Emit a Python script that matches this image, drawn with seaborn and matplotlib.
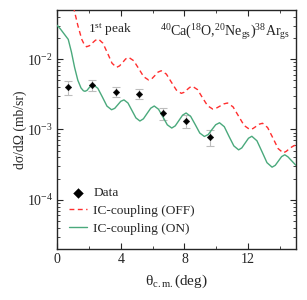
import numpy as np
import pandas as pd
import seaborn as sns
import matplotlib
matplotlib.use("Agg")
import matplotlib.pyplot as plt
from matplotlib.ticker import LogLocator, MultipleLocator

# measured data (1st peak)
theta_data = [0.69, 2.19, 3.67, 5.15, 6.62, 8.10, 9.58]
xs_data = [4.0e-3, 4.3e-3, 3.4e-3, 3.2e-3, 1.7e-3, 1.32e-3, 7.9e-4]
xs_err = [0.9e-3, 0.8e-3, 0.55e-3, 0.5e-3, 0.35e-3, 0.28e-3, 0.2e-3]

# IC-coupling (ON), log10 values
theta_on = [0.0, 0.2, 0.4, 0.6, 0.7, 0.9, 1.1, 1.3, 1.5, 1.65, 1.75,
            1.88, 2.0, 2.14, 2.27, 2.56, 2.85, 3.13, 3.42, 3.62, 3.81, 4.0, 4.2,
            4.45, 4.7, 4.95, 5.2, 5.42, 5.65, 5.88, 6.1, 6.37, 6.65, 6.92, 7.2,
            7.42, 7.65, 7.88, 8.1, 8.39, 8.68, 8.96, 9.25, 9.49, 9.73, 9.96, 10.2,
            10.5, 10.8, 11.1, 11.4, 11.6, 11.82, 12.02, 12.23, 12.55, 12.87, 13.18,
            13.5, 13.7, 13.9, 14.1, 14.3, 14.5, 14.75, 15.0]
logxs_on = [-1.52, -1.57, -1.63, -1.69, -1.72, -1.90, -2.12, -2.30, -2.41, -2.45, -2.458,
            -2.445, -2.41, -2.378, -2.364, -2.416, -2.542, -2.668, -2.72, -2.70, -2.65, -2.60, -2.58,
            -2.624, -2.73, -2.836, -2.88, -2.849, -2.773, -2.698, -2.667, -2.713, -2.823, -2.934, -2.98,
            -2.949, -2.873, -2.797, -2.766, -2.815, -2.933, -3.051, -3.10, -3.072, -3.0, -2.933, -2.905,
            -2.961, -3.10, -3.234, -3.29, -3.262, -3.19, -3.125, -3.097, -3.161, -3.317, -3.472,
            -3.536, -3.51, -3.448, -3.386, -3.36, -3.39, -3.45, -3.51]

# IC-coupling (OFF)
theta_off = [0.0, 0.5, 1.06, 1.3, 1.55, 1.7, 1.85,
             2.04, 2.22, 2.41, 2.6, 2.88, 3.17, 3.45, 3.73, 3.92, 4.12, 4.31, 4.5,
             4.81, 5.13, 5.44, 5.75, 5.95, 6.15, 6.34, 6.54, 6.86, 7.17, 7.49, 7.8,
             7.98, 8.15, 8.33, 8.5, 8.82, 9.13, 9.45, 9.77, 10.0, 10.24, 10.47, 10.7,
             11.05, 11.4, 11.75, 12.1, 12.3, 12.5, 12.7, 12.9, 13.22, 13.55, 13.88, 14.2,
             14.4, 14.6, 14.8, 15.0]
logxs_off = [-0.6, -0.95, -1.29, -1.52, -1.72, -1.79, -1.825,
             -1.809, -1.77, -1.732, -1.716, -1.775, -1.917, -2.059, -2.118, -2.097, -2.047, -1.997, -1.976,
             -2.023, -2.137, -2.251, -2.298, -2.279, -2.232, -2.185, -2.166, -2.213, -2.326, -2.44, -2.487,
             -2.472, -2.437, -2.402, -2.387, -2.434, -2.549, -2.663, -2.71, -2.697, -2.667, -2.637, -2.624,
             -2.679, -2.812, -2.945, -3.0, -2.987, -2.956, -2.925, -2.912, -2.973, -3.12, -3.272, -3.333,
             -3.31, -3.27, -3.24, -3.22]

df_on = pd.DataFrame({"theta": theta_on, "xs": 10.0 ** np.array(logxs_on)})
df_off = pd.DataFrame({"theta": theta_off, "xs": 10.0 ** np.array(logxs_off)})
df_data = pd.DataFrame({"theta": theta_data, "xs": xs_data, "err": xs_err})

sns.set_style("ticks")
plt.rcParams["font.family"] = ["Liberation Serif", "DejaVu Serif"]
plt.rcParams["mathtext.fontset"] = "custom"
plt.rcParams["mathtext.rm"] = "Liberation Serif"
plt.rcParams["mathtext.it"] = "Liberation Serif:italic"
plt.rcParams["mathtext.default"] = "regular"

fig = plt.figure(figsize=(3.07, 3.0), dpi=100)
ax = fig.add_axes([0.186, 0.17, 0.778, 0.797])

red = "#ff2e2e"
green = "#4aa97c"

ax.errorbar(df_data["theta"], df_data["xs"], yerr=df_data["err"], fmt="none",
            ecolor="#bdbdbd", elinewidth=0.8, capsize=2.8, capthick=0.8, zorder=2)
sns.scatterplot(data=df_data, x="theta", y="xs", marker="D", s=11, color="black",
                edgecolor="black", linewidth=0.3, ax=ax, label="Data", zorder=4)
sns.lineplot(data=df_off, x="theta", y="xs", color=red, linewidth=1.0,
             dashes=False, ax=ax, label="IC-coupling (OFF)", zorder=3)
ax.lines[-1].set_dashes([3.5, 2.5])
sns.lineplot(data=df_on, x="theta", y="xs", color=green, linewidth=1.0,
             ax=ax, label="IC-coupling (ON)", zorder=3)

ax.set_yscale("log")
ax.set_xlim(0, 15)
ax.set_ylim(2e-5, 5e-2)
ax.xaxis.set_major_locator(MultipleLocator(4))
ax.xaxis.set_minor_locator(MultipleLocator(2))
ax.yaxis.set_major_locator(LogLocator(base=10, numticks=10))
ax.yaxis.set_minor_locator(LogLocator(base=10, subs=np.arange(2, 10), numticks=10))
ax.tick_params(which="both", direction="in", top=True, right=True, labelsize=10, pad=3)
ax.tick_params(which="major", length=4, width=0.8)
ax.tick_params(which="minor", length=2.2, width=0.6)
for sp in ax.spines.values():
    sp.set_linewidth(1.0)

ax.set_xlabel(r"θ$_{\mathrm{c.m.}}$(deg)", fontsize=11)
ax.set_ylabel("dσ/dΩ (mb/sr)", fontsize=9.8)
ax.xaxis.set_label_coords(0.5, -0.1)
ax.yaxis.set_label_coords(-0.128, 0.5)

ax.text(0.13, 0.916, r"1$^{\mathrm{st}}$ peak", transform=ax.transAxes,
        fontsize=9.6, va="center")
ax.text(0.431, 0.908,
        r"$^{40}$Ca($^{18}$O,$^{20}$Ne$_{\mathrm{gs}}$)$^{38}$Ar$_{\mathrm{gs}}$",
        transform=ax.transAxes, fontsize=10.1, va="center")

leg = ax.legend(loc="lower left", bbox_to_anchor=(0.01, 0.02), frameon=False,
                fontsize=9.6, handlelength=1.4, handletextpad=0.45,
                labelspacing=0.42, markerscale=1.5, borderaxespad=0.3)

fig.savefig("out.png", dpi=100)
